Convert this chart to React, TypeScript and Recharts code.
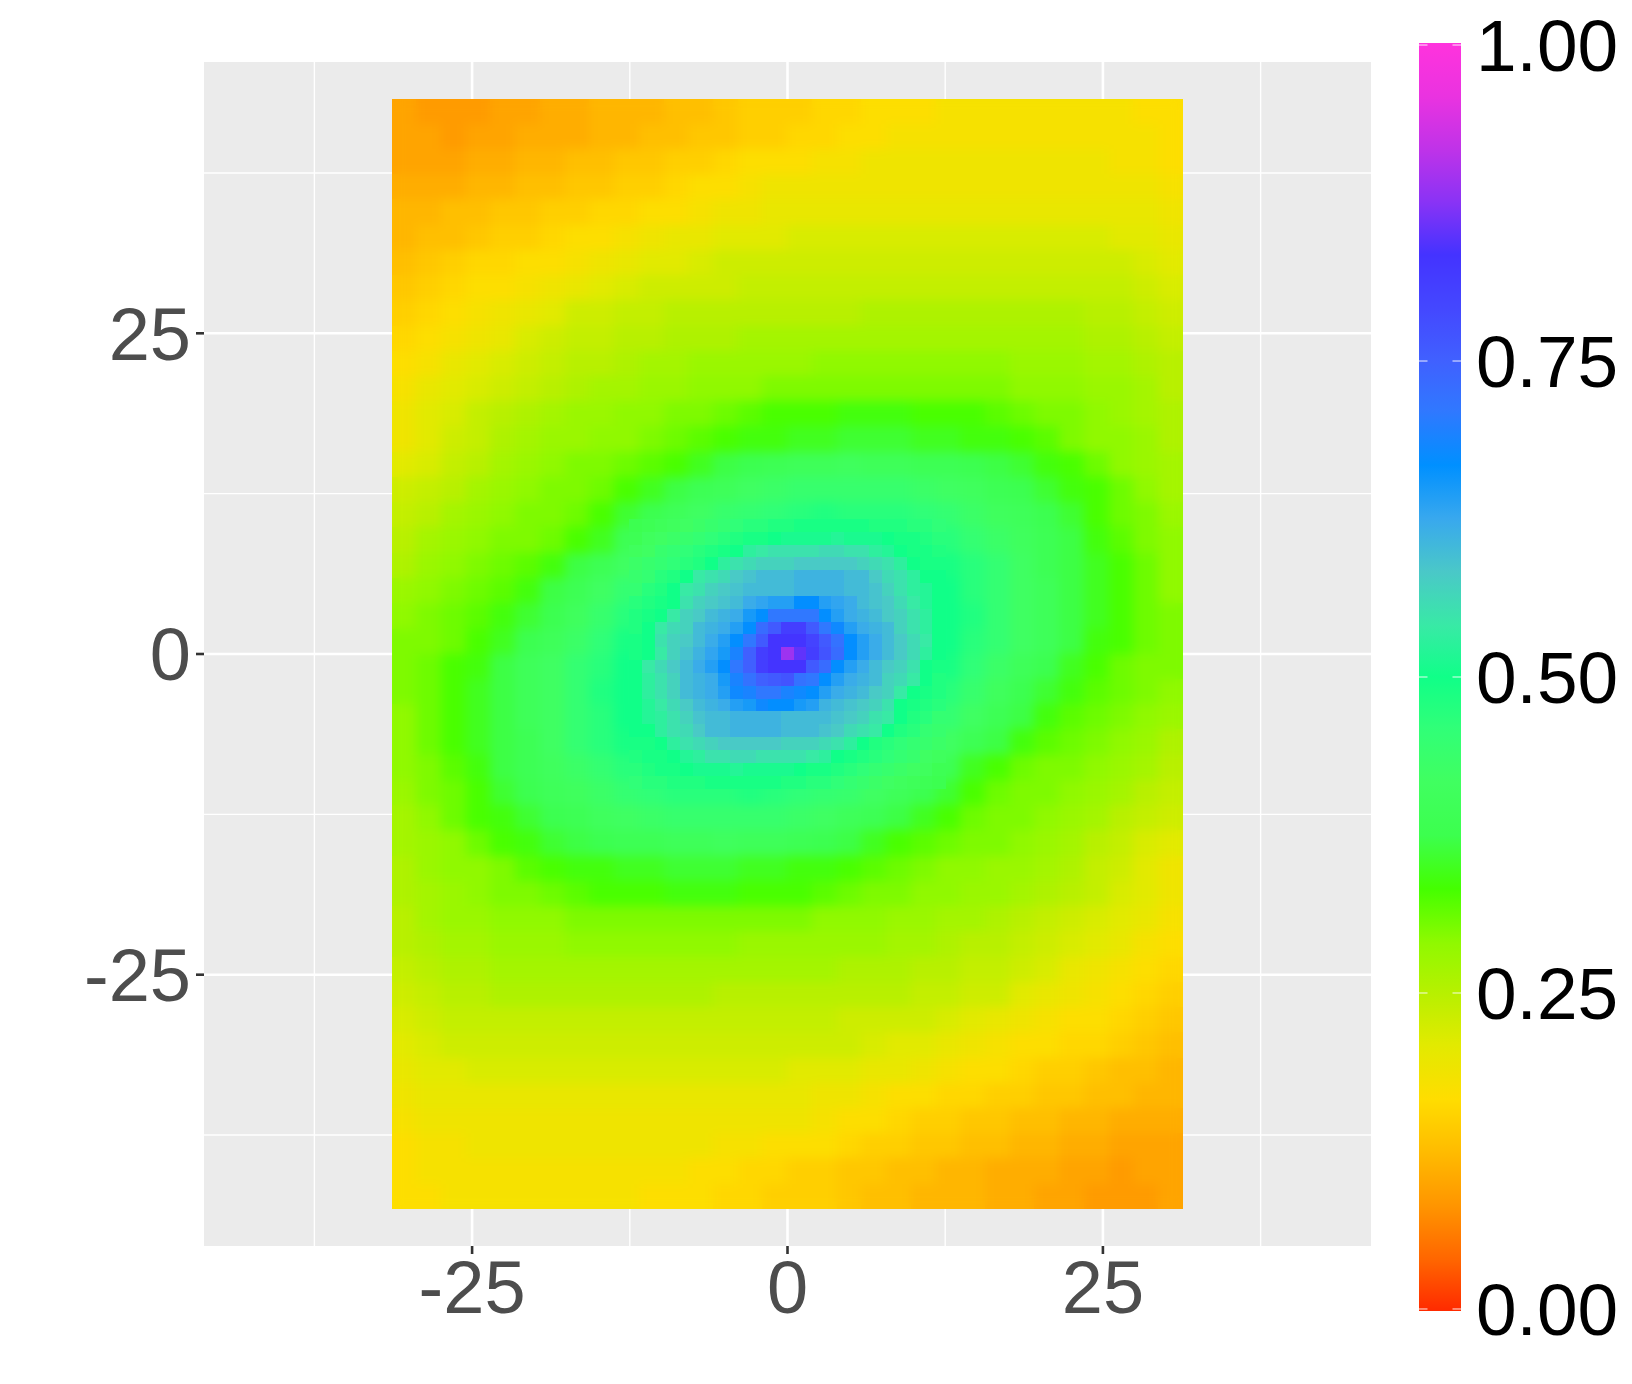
/**
 * Heat map of a correlation-like surface with a colour bar, ggplot style.
 */

import {
  ScatterChart, Scatter, XAxis, YAxis, CartesianGrid, ReferenceArea,
} from 'recharts';

const axisTicks = [-25, 0, 25];
const minorLines = [-37.5, -12.5, 12.5, 37.5];
const barTicks = [0, 0.25, 0.5, 0.75, 1];

const stopValues = [0, 0.04, 0.083, 0.125, 0.167, 0.21, 0.25, 0.29, 0.333, 0.375, 0.417, 0.46, 0.5, 0.54, 0.583, 0.625, 0.667, 0.71, 0.75, 0.79, 0.833, 0.875, 0.917, 0.958, 1];
const stopColours = ['#ff2a00', '#ff6500', '#ff9500', '#ffbb00', '#ffdd00', '#e2ea00', '#b8f000', '#90f900', '#44ff00', '#3cff4e', '#40ff60', '#30ff78', '#10ff88', '#38eaa5', '#4ac8c8', '#38a8ee', '#0090ff', '#3078ff', '#4060ff', '#4448ff', '#4433ff', '#8a33f5', '#c033e8', '#ea33e0', '#ff33dd'];

const coarseXs = [-30.38, -28.42, -26.46, -24.5, -22.54, -20.58, -18.62, -16.66, -14.7, -12.74, -10.78, -8.82, -6.86, -4.9, -2.94, -0.98, 0.98, 2.94, 4.9, 6.86, 8.82, 10.78, 12.74, 14.7, 16.66, 18.62, 20.58, 22.54, 24.5, 26.46, 28.42, 30.38];
const coarseYs = [42.3, 40.33, 38.37, 36.4, 34.43, 32.47, 30.5, 28.53, 26.56, 24.6, 22.63, 20.66, 18.7, 16.73, 14.76, 12.8, 10.83, 8.86, 6.89, 4.93, 2.96, 0.98, -0.98, -2.96, -4.93, -6.89, -8.86, -10.83, -12.8, -14.76, -16.73, -18.7, -20.66, -22.63, -24.6, -26.56, -28.53, -30.5, -32.47, -34.43, -36.4, -38.37, -40.33, -42.3];

// percent values, top row first
const coarseRows = [
  [10,9,9,9,10,10,11,11,12,12,12,13,13,14,15,15,15,16,16,17,17,17,18,18,18,18,18,18,18,18,17,17],
  [10,10,9,10,10,11,11,11,12,12,13,13,14,14,15,15,16,16,17,17,18,18,18,18,18,18,18,18,18,18,18,17],
  [10,10,10,11,11,12,12,13,13,14,14,15,15,16,17,17,17,18,18,19,19,19,19,19,19,19,19,19,19,18,18,17],
  [11,11,11,12,12,13,13,14,14,15,15,16,17,17,18,19,19,19,19,19,19,19,19,19,19,19,19,19,19,19,19,18],
  [12,12,13,13,14,14,15,15,16,16,17,17,18,19,19,20,20,20,20,20,20,20,20,20,20,20,20,20,20,20,20,19],
  [12,13,13,14,15,15,16,17,17,18,19,20,20,21,21,21,22,22,22,22,22,22,22,22,22,22,22,22,22,21,21,20],
  [13,14,15,16,16,17,17,18,19,20,21,21,22,23,23,23,23,23,23,23,23,23,23,23,23,23,23,23,23,23,22,21],
  [14,15,16,17,17,18,19,20,21,22,23,23,23,23,24,24,24,24,24,24,24,24,24,24,24,24,24,24,24,24,23,22],
  [15,16,17,18,19,20,21,23,23,24,24,25,25,25,25,25,25,25,25,26,26,26,26,26,26,26,26,26,25,25,24,23],
  [16,17,18,19,20,22,23,24,24,25,25,26,26,26,27,27,27,27,27,27,27,27,27,27,27,27,27,27,26,26,25,24],
  [17,18,20,21,22,23,24,25,25,26,27,27,28,28,28,28,28,29,29,29,29,29,29,29,29,28,28,28,27,27,26,25],
  [18,20,21,22,23,24,25,26,27,27,28,28,29,29,29,30,30,30,30,30,30,30,30,30,30,29,29,29,28,28,27,25],
  [19,21,22,24,25,26,27,28,28,29,29,30,30,31,32,33,33,33,34,34,34,33,33,33,32,31,30,30,29,28,27,26],
  [19,21,23,24,26,27,28,28,29,29,30,31,32,33,34,34,35,35,36,36,36,35,35,34,34,33,32,30,29,29,28,26],
  [21,22,24,25,27,28,29,30,30,31,32,33,35,37,38,39,40,40,41,40,40,39,39,38,37,36,34,33,31,29,28,27],
  [23,24,25,27,28,29,30,30,31,33,35,37,39,40,42,43,44,44,44,44,44,43,42,41,39,38,36,34,33,31,29,27],
  [24,25,27,28,29,30,30,31,33,36,38,40,42,44,45,46,47,48,47,47,47,46,45,43,41,40,38,36,33,31,30,28],
  [25,27,28,29,30,30,31,33,35,39,42,45,47,48,49,50,50,50,51,51,50,49,47,45,43,41,39,37,34,32,30,29],
  [26,28,29,30,31,32,34,37,39,42,44,47,49,52,53,54,54,55,55,54,53,51,49,47,45,42,39,37,35,33,31,29],
  [28,29,30,31,32,34,37,39,42,45,47,50,52,55,58,60,60,60,58,56,54,51,50,47,45,42,40,37,35,33,31,29],
  [29,30,31,32,34,36,38,41,44,47,50,53,56,60,68,75,75,70,63,58,55,52,50,48,45,42,40,37,35,33,31,30],
  [30,30,31,33,35,38,40,43,46,49,52,57,60,66,76,85,85,78,67,61,57,53,50,47,45,42,40,37,34,33,31,30],
  [30,31,33,34,37,40,42,45,47,50,53,57,61,67,78,85,85,76,66,60,57,52,49,46,43,40,38,35,33,31,30,30],
  [30,31,33,35,37,40,42,45,48,50,52,55,58,63,70,75,75,68,60,56,53,50,47,44,41,38,36,34,32,31,30,29],
  [29,31,33,35,37,40,42,45,47,50,51,54,56,58,60,60,60,58,55,52,50,47,45,42,39,37,34,32,31,30,29,28],
  [29,31,33,35,37,39,42,45,47,49,51,53,54,55,55,54,54,53,52,49,47,44,42,39,37,34,32,31,30,29,28,26],
  [29,30,32,34,37,39,41,43,45,47,49,50,51,51,50,50,50,49,48,47,45,42,39,35,33,31,30,30,29,28,27,25],
  [28,30,31,33,36,38,40,41,43,45,46,47,47,47,48,47,46,45,44,42,40,38,36,33,31,30,30,29,28,27,25,24],
  [27,29,31,33,34,36,38,39,41,42,43,44,44,44,44,44,43,42,40,39,37,35,33,31,30,30,29,28,27,25,24,23],
  [27,28,29,31,33,34,36,37,38,39,39,40,40,41,40,40,39,38,37,35,33,32,31,30,30,29,28,27,25,24,22,21],
  [26,28,29,29,30,32,33,34,34,35,35,36,36,36,35,35,34,34,33,32,31,30,29,29,28,28,27,26,24,23,21,19],
  [26,27,28,29,30,30,31,32,33,33,33,34,34,34,33,33,33,32,31,30,30,29,29,28,28,27,26,25,24,22,21,19],
  [25,27,28,28,29,29,29,30,30,30,30,30,30,30,30,30,30,29,29,29,28,28,27,27,26,25,24,23,22,21,20,18],
  [25,26,27,27,28,28,28,29,29,29,29,29,29,29,28,28,28,28,28,28,27,27,26,25,25,24,23,22,21,20,18,17],
  [24,25,26,26,27,27,27,27,27,27,27,27,27,27,27,27,27,27,26,26,26,25,25,24,24,23,22,20,19,18,17,16],
  [23,24,25,25,26,26,26,26,26,26,26,26,26,25,25,25,25,25,25,25,25,24,24,23,23,21,20,19,18,17,16,15],
  [22,23,24,24,24,24,24,24,24,24,24,24,24,24,24,24,24,24,23,23,23,23,22,21,20,19,18,17,17,16,15,14],
  [21,22,23,23,23,23,23,23,23,23,23,23,23,23,23,23,23,23,23,22,21,21,20,19,18,17,17,16,16,15,14,13],
  [20,21,21,22,22,22,22,22,22,22,22,22,22,22,22,22,21,21,21,20,20,19,18,17,17,16,15,15,14,13,13,12],
  [19,20,20,20,20,20,20,20,20,20,20,20,20,20,20,20,20,19,19,18,17,17,16,16,15,15,14,14,13,13,12,12],
  [18,19,19,19,19,19,19,19,19,19,19,19,19,19,19,19,19,18,17,17,16,15,15,14,14,13,13,12,12,11,11,11],
  [17,18,18,19,19,19,19,19,19,19,19,19,19,18,18,17,17,17,16,15,15,14,14,13,13,12,12,11,11,10,10,10],
  [17,18,18,18,18,18,18,18,18,18,18,18,17,17,16,16,15,15,14,14,13,13,12,12,11,11,11,10,10,9,10,10],
  [17,17,18,18,18,18,18,18,18,18,17,17,17,16,16,15,15,15,14,13,13,12,12,12,11,11,10,10,9,9,9,10],
];

const fineXs = [-12, -11, -10, -9, -8, -7, -6, -5, -4, -3, -2, -1, 0, 1, 2, 3, 4, 5, 6, 7, 8, 9, 10, 11, 12];
const fineYs = [10, 9, 8, 7, 6, 5, 4, 3, 2, 1, 0, -1, -2, -3, -4, -5, -6, -7, -8, -9, -10];

const fineRows = [
  [38,39,40,41,42,43,44,45,46,47,47,48,48,49,49,49,49,49,49,48,48,48,47,47,46],
  [39,41,42,43,44,45,46,47,48,49,49,50,51,51,51,51,52,51,51,51,50,49,49,48,47],
  [41,42,44,45,46,47,48,49,50,53,54,55,55,55,55,56,56,55,55,53,52,50,49,49,48],
  [43,44,45,46,47,48,50,53,55,56,57,57,57,58,58,58,58,58,57,56,55,53,50,49,49],
  [44,45,47,48,50,54,55,56,58,59,60,60,60,61,61,61,61,60,60,58,56,55,53,50,50],
  [45,47,48,50,54,55,57,58,59,60,60,60,60,61,61,61,61,60,60,59,57,55,53,52,50],
  [47,48,49,50,55,57,58,59,60,62,63,64,64,67,67,64,63,62,60,59,58,56,54,52,50],
  [48,49,50,54,57,58,60,61,62,65,67,71,71,71,71,67,64,62,61,60,58,57,55,53,50],
  [48,50,54,56,57,60,61,62,64,67,73,76,81,81,76,71,68,64,62,61,60,57,55,53,50],
  [49,50,55,57,58,60,62,64,67,71,76,83,83,83,80,76,72,67,64,62,60,58,56,54,50],
  [49,50,54,57,59,61,63,65,69,75,81,83,89,85,81,77,73,67,64,62,60,58,56,53,50],
  [50,54,56,58,60,62,64,67,71,75,81,83,83,83,76,73,67,64,62,60,58,57,55,50,49],
  [50,53,55,57,60,61,62,65,69,72,75,76,77,72,71,67,64,62,61,60,57,56,54,50,48],
  [50,53,55,57,60,61,62,64,68,69,71,71,69,68,67,64,62,61,60,58,57,54,50,49,48],
  [50,52,54,56,58,60,61,62,64,65,68,67,67,65,64,61,60,59,58,57,55,50,49,48,47],
  [50,52,53,55,57,59,60,60,61,61,61,61,60,60,60,60,59,58,57,55,54,50,48,47,45],
  [50,50,53,55,56,58,60,60,61,61,61,61,60,60,60,59,58,56,55,54,50,48,47,45,44],
  [49,49,50,53,55,56,57,58,58,58,58,58,57,57,57,56,55,53,50,48,47,46,45,44,43],
  [48,49,49,50,52,53,55,55,56,56,55,55,55,55,54,53,50,49,48,47,46,45,44,42,41],
  [47,48,49,49,50,51,51,51,52,51,51,51,51,50,49,49,48,47,46,45,44,43,42,41,39],
  [46,47,47,48,48,48,49,49,49,49,49,49,48,48,47,47,46,45,44,43,42,41,40,39,38],
];

const colourOf = (v: number) => {
  const i = stopValues.findIndex((s) => s >= v);
  if (i <= 0) return stopColours[0];
  const t = (v - stopValues[i - 1]) / (stopValues[i] - stopValues[i - 1]);
  const a = stopColours[i - 1];
  const b = stopColours[i];
  const ch = (k: number) => {
    const p = parseInt(a.slice(k, k + 2), 16);
    const q = parseInt(b.slice(k, k + 2), 16);
    return Math.round(p + (q - p) * t);
  };
  return `rgb(${ch(1)},${ch(3)},${ch(5)})`;
};

const toCells = (xs: number[], ys: number[], rows: number[][]) =>
  rows.flatMap((row, r) => row.map((pct, c) => ({ x: xs[c], y: ys[r], value: pct / 100 })));

const coarseCells = toCells(coarseXs, coarseYs, coarseRows);
const fineCells = toCells(fineXs, fineYs, fineRows);
const barPoints = barTicks.map((t) => ({ x: 0.5, y: t }));

const PX_X = 12.616;
const PX_Y = 12.83;

const cellShape = (stepX: number, stepY: number) => (props: any) => {
  const w = stepX * PX_X + 0.6;
  const h = stepY * PX_Y + 0.6;
  return (
    <rect
      x={props.cx - w / 2}
      y={props.cy - h / 2}
      width={w}
      height={h}
      fill={colourOf(props.payload.value)}
      shapeRendering="crispEdges"
    />
  );
};

// short white marks at both ends of a colour bar tick
const barTickShape = (props: any) => (
  <g stroke="#ffffff" strokeOpacity={0.75} strokeWidth={1.2}>
    <line x1={props.cx - 21} x2={props.cx - 12.5} y1={props.cy} y2={props.cy} />
    <line x1={props.cx + 12.5} x2={props.cx + 21} y1={props.cy} y2={props.cy} />
  </g>
);

const FONT = '"Liberation Sans", Arial, sans-serif';

export default function App() {
  return (
    <div style={{ position: 'absolute', left: 0, top: 0, width: 1632, height: 1384, background: '#fff' }}>
      <style>{`
        .heat-clip { clip-path: url(#heatClip); }
        .heat-blur { filter: blur(6px); }
      `}</style>
      <div style={{ position: 'absolute', left: 0, top: 0 }}>
        <ScatterChart width={1400} height={1384} margin={{ top: 62, right: 29, bottom: 38, left: 74 }}>
          <defs>
            <clipPath id="heatClip" clipPathUnits="userSpaceOnUse">
              <rect x={392} y={99} width={791} height={1110} />
            </clipPath>
          </defs>
          <CartesianGrid fill="#EBEBEB" stroke="#ffffff" strokeWidth={1.4} verticalValues={minorLines} horizontalValues={minorLines} />
          <CartesianGrid stroke="#ffffff" strokeWidth={2.6} verticalValues={axisTicks} horizontalValues={axisTicks} />
          <XAxis
            type="number"
            dataKey="x"
            domain={[-46.25, 46.25]}
            ticks={axisTicks}
            height={100}
            axisLine={false}
            tickSize={8}
            tickMargin={6}
            tickLine={{ stroke: '#333333', strokeWidth: 2.6 }}
            tick={{ fontSize: 74, fill: '#4D4D4D', fontFamily: FONT }}
            interval={0}
          />
          <YAxis
            type="number"
            dataKey="y"
            domain={[-46.15, 46.15]}
            ticks={axisTicks}
            width={130}
            axisLine={false}
            tickSize={8}
            tickMargin={5}
            tickLine={{ stroke: '#333333', strokeWidth: 2.6 }}
            tick={{ fontSize: 74, fill: '#4D4D4D', fontFamily: FONT }}
            interval={0}
          />
          <Scatter className="heat-clip" data={coarseCells} isAnimationActive={false} shape={cellShape(1.96, 1.967)} />
          <Scatter className="heat-clip heat-blur" data={coarseCells} isAnimationActive={false} shape={cellShape(1.96, 1.967)} />
          <Scatter data={fineCells} isAnimationActive={false} shape={cellShape(1, 1)} />
        </ScatterChart>
      </div>
      <div style={{ position: 'absolute', left: 1400, top: 0 }}>
        <ScatterChart width={232} height={1384} margin={{ top: 43, right: 11, bottom: 73, left: 19 }}>
          <defs>
            <linearGradient id="colourBar" x1="0" y1="0" x2="0" y2="1">
              {stopValues.map((v, i) => (
                <stop key={i} offset={1 - v} stopColor={stopColours[i]} />
              )).reverse()}
            </linearGradient>
          </defs>
          <XAxis type="number" dataKey="x" domain={[0, 1]} hide />
          <YAxis
            type="number"
            dataKey="y"
            orientation="right"
            domain={[-0.0016, 1.0016]}
            ticks={barTicks}
            width={160}
            axisLine={false}
            tickLine={false}
            tickSize={0}
            tickMargin={15}
            tickFormatter={(v: number) => v.toFixed(2)}
            tick={{ fontSize: 73, fill: '#000000', fontFamily: FONT }}
            interval={0}
          />
          <ReferenceArea x1={0} x2={1} y1={-0.0016} y2={1.0016} fill="url(#colourBar)" fillOpacity={1} stroke="none" />
          <Scatter data={barPoints} isAnimationActive={false} shape={barTickShape} />
        </ScatterChart>
      </div>
    </div>
  );
}
